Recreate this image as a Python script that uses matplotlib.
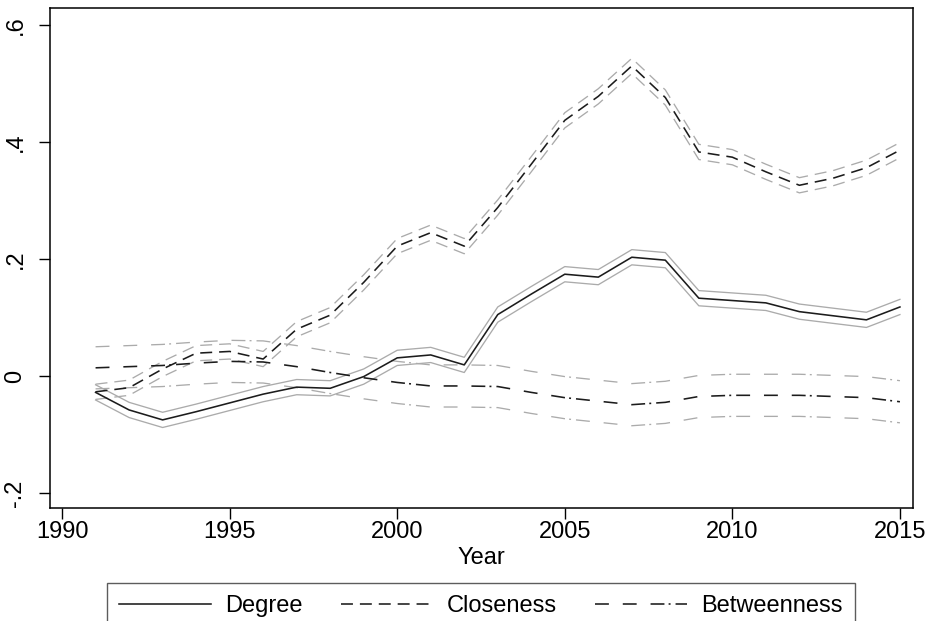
import matplotlib
matplotlib.use("Agg")
import matplotlib.pyplot as plt
import numpy as np
from matplotlib.ticker import FixedLocator, FixedFormatter

plt.rcParams['font.family'] = ['Liberation Sans', 'DejaVu Sans']
plt.rcParams['lines.scale_dashes'] = False

years = list(range(1991, 2016))

degree = [-0.028, -0.058, -0.075, -0.061, -0.046, -0.031, -0.019, -0.021, -0.001, 0.031,
          0.036, 0.019, 0.105, 0.140, 0.174, 0.169, 0.203, 0.198, 0.133, 0.129,
          0.125, 0.110, 0.103, 0.096, 0.118]
closeness = [-0.027, -0.020, 0.012, 0.039, 0.042, 0.029, 0.080, 0.104, 0.160, 0.222,
             0.245, 0.222, 0.288, 0.362, 0.437, 0.478, 0.530, 0.476, 0.383, 0.374,
             0.349, 0.326, 0.338, 0.356, 0.386]
betweenness = [0.014, 0.016, 0.018, 0.022, 0.025, 0.024, 0.016, 0.006, -0.003, -0.011,
               -0.017, -0.017, -0.018, -0.028, -0.037, -0.043, -0.049, -0.045, -0.035, -0.033,
               -0.033, -0.033, -0.035, -0.037, -0.044]

# half-widths of the confidence bands
degree_ci = 0.013
closeness_ci = 0.013
betweenness_ci = 0.036

series_names = ["Degree", "Closeness", "Betweenness"]
xticks = [1990, 1995, 2000, 2005, 2010, 2015]
yticks = [-0.2, 0.0, 0.2, 0.4, 0.6]
ytick_labels = ["-.2", "0", ".2", ".4", ".6"]

dark = "#1c1c1c"
gray = "#ababab"
solid = "-"
dashed = (0, (8.6, 5.0))
dashdot = (0, (10, 10, 10, 10, 10, 3, 1.4, 3.6))

fig = plt.figure(figsize=(9.27, 6.21), dpi=100)
ax = fig.add_axes([50/927, 1-508/621, 863/927, 500/621])

yrs = np.array(years)
data = [(np.array(degree), degree_ci, solid),
        (np.array(closeness), closeness_ci, dashed),
        (np.array(betweenness), betweenness_ci, dashdot)]

for (vals, ci, ls) in data:
    ax.plot(yrs, vals + ci, color=gray, lw=0.95, ls=ls)
    ax.plot(yrs, vals - ci, color=gray, lw=0.95, ls=ls)

handles = []
for (vals, ci, ls), name in zip(data, series_names):
    h, = ax.plot(yrs, vals, color=dark, lw=1.15, ls=ls, label=name)
    handles.append(h)

ax.set_xlim(1989.64, 2015.39)
ax.set_ylim(-0.2256, 0.629)
ax.xaxis.set_major_locator(FixedLocator(xticks))
ax.yaxis.set_major_locator(FixedLocator(yticks))
ax.yaxis.set_major_formatter(FixedFormatter(ytick_labels))
ax.tick_params(axis='both', direction='out', length=8, width=1.0, color='black',
               labelsize=17)
ax.tick_params(axis='x', pad=1)
ax.tick_params(axis='y', pad=9)
for lab in ax.get_yticklabels():
    lab.set_rotation(90)
    lab.set_va('center')
for sp in ax.spines.values():
    sp.set_linewidth(1.1)
    sp.set_color('black')

ax.set_xlabel("Year", fontsize=17, labelpad=3)

leg = fig.legend(handles=handles, labels=series_names, loc='upper center',
                 bbox_to_anchor=(481/927, 1-583/621), ncol=3, fontsize=17,
                 frameon=True, fancybox=False, handlelength=3.9, handletextpad=0.6,
                 columnspacing=1.6, borderpad=0.5, borderaxespad=0)
leg.get_frame().set_edgecolor('#333333')
leg.get_frame().set_linewidth(1.0)

fig.savefig("out.png", dpi=100)
